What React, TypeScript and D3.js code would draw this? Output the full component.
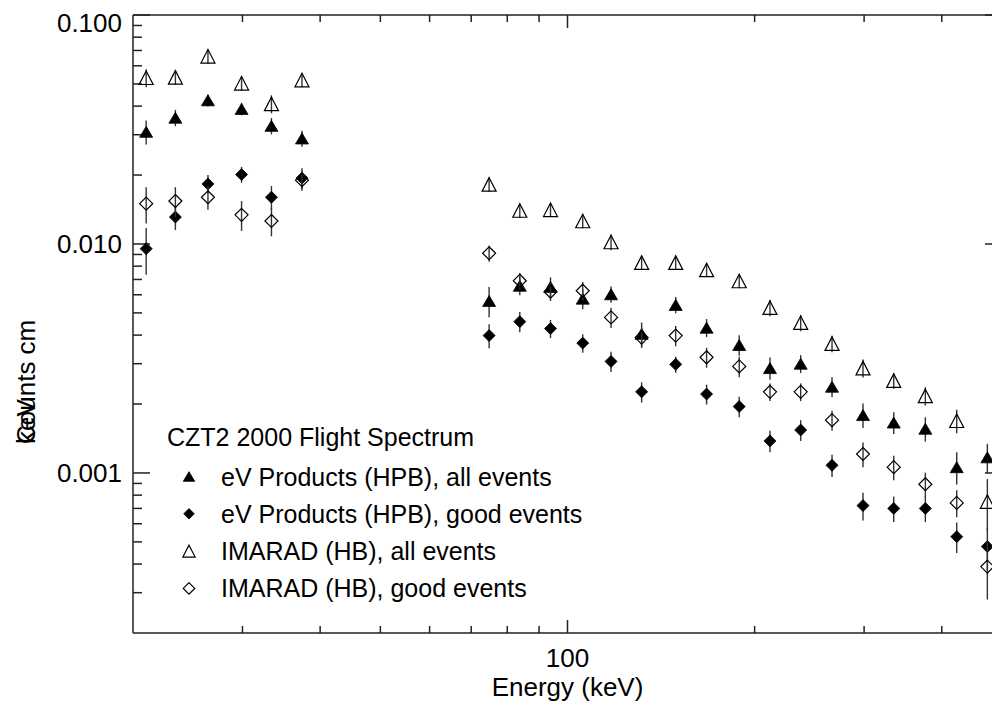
import React from 'react';
import * as d3 from 'd3';

const energies = [21.0, 23.4, 26.4, 29.9, 33.4, 37.4,
  74.8, 83.8, 93.9, 105.8, 117.5, 131.6, 149.3, 167.4, 188.9, 211.7, 237.2, 266.4, 298.8, 334.8, 376.4, 422.8, 473.6];

const evAll = [0.0309, 0.0356, 0.0424, 0.0389, 0.0328, 0.0289,
  0.00564, 0.00657, 0.00649, 0.00577, 0.00603, 0.00405, 0.00542, 0.00431, 0.00362, 0.00287, 0.00300, 0.00238, 0.00179, 0.00166, 0.00156, 0.00106, 0.00117];
const evAllErr = [0.0037, 0.0029, 0.0026, 0.0024, 0.0027, 0.0023,
  0.00085, 0.0006, 0.00066, 0.00058, 0.00049, 0.00049, 0.00044, 0.00039, 0.00037, 0.00032, 0.00027, 0.00024, 0.00022, 0.00018, 0.00019, 0.00017, 0.00017];

const evGood = [0.00954, 0.0131, 0.0183, 0.0201, 0.0160, 0.0194,
  0.00398, 0.00458, 0.00427, 0.00369, 0.00307, 0.00226, 0.00298, 0.00221, 0.00195, 0.00138, 0.00154, 0.00108, 0.00072, 0.00070, 0.00070, 0.000527, 0.000477];
const evGoodErr = [0.0022, 0.0016, 0.0017, 0.0016, 0.0019, 0.002,
  0.00048, 0.00046, 0.00039, 0.00034, 0.00031, 0.00023, 0.00024, 0.00022, 0.0002, 0.00015, 0.00016, 0.00012, 0.0001, 0.00009, 0.00009, 0.00008, 0.0001];

const imAll = [0.0532, 0.0534, 0.0660, 0.0503, 0.0409, 0.0520,
  0.0182, 0.0140, 0.0141, 0.0126, 0.0102, 0.00829, 0.00829, 0.0077, 0.00689, 0.00527, 0.00453, 0.00367, 0.00287, 0.00253, 0.00217, 0.00169, 0.00075];
const imAllErr = [0.0048, 0.0038, 0.0047, 0.0036, 0.0037, 0.0037,
  0.0013, 0.001, 0.001, 0.0009, 0.0008, 0.0006, 0.0006, 0.00054, 0.00049, 0.00043, 0.00037, 0.0003, 0.00026, 0.0002, 0.0002, 0.0002, 0.00019];

const imGood = [0.0150, 0.0154, 0.0160, 0.0134, 0.0126, 0.0190,
  0.00911, 0.00691, 0.00619, 0.00625, 0.00478, 0.0039, 0.00398, 0.0032, 0.00292, 0.00226, 0.00226, 0.0017, 0.00121, 0.00106, 0.000893, 0.00074, 0.00039];
const imGoodErr = [0.0027, 0.0023, 0.0019, 0.002, 0.0018, 0.0019,
  0.00074, 0.00056, 0.00056, 0.00057, 0.00048, 0.00039, 0.0004, 0.00032, 0.0003, 0.0002, 0.0002, 0.00017, 0.00015, 0.00013, 0.00011, 0.0001, 0.00011];

const xMajorTicks = [100];
const xMinorTicks = [30, 40, 50, 60, 70, 80, 90, 200, 300, 400];
const yMajorTicks = [0.001, 0.01, 0.1];
const yMajorLabels = ['0.001', '0.010', '0.100'];
const yMinorTicks = [0.0003, 0.0004, 0.0005, 0.0006, 0.0007, 0.0008, 0.0009,
  0.002, 0.003, 0.004, 0.005, 0.006, 0.007, 0.008, 0.009,
  0.02, 0.03, 0.04, 0.05, 0.06, 0.07, 0.08, 0.09];

const legendTitle = 'CZT2 2000 Flight Spectrum';
const seriesNames = ['eV Products (HPB), all events', 'eV Products (HPB), good events', 'IMARAD (HB), all events', 'IMARAD (HB), good events'];

const W = 992, H = 702;
const L = 133, R = 1002, T = 15, B = 633;
const FONT = "'Liberation Sans', Arial, Helvetica, sans-serif";

function marker(kind: string, cx: number, cy: number, s: number, key?: any) {
  if (kind === 'triFilled') {
    const w = 13 * s, h = 11 * s;
    return <path key={key} d={`M${cx},${cy - h / 2}L${cx + w / 2},${cy + h / 2}L${cx - w / 2},${cy + h / 2}Z`} fill="#000" stroke="#000" strokeWidth={0.8} />;
  }
  if (kind === 'triOpen') {
    const w = 14 * s, h = 13.5 * s;
    return <path key={key} d={`M${cx},${cy - h / 2}L${cx + w / 2},${cy + h / 2}L${cx - w / 2},${cy + h / 2}Z`} fill="none" stroke="#000" strokeWidth={1.2} />;
  }
  if (kind === 'diaFilled') {
    const r = 6 * s;
    return <path key={key} d={`M${cx},${cy - r}L${cx + r},${cy}L${cx},${cy + r}L${cx - r},${cy}Z`} fill="#000" stroke="#000" strokeWidth={0.8} />;
  }
  const r = 6.5 * s;
  return <path key={key} d={`M${cx},${cy - r}L${cx + r},${cy}L${cx},${cy + r}L${cx - r},${cy}Z`} fill="none" stroke="#000" strokeWidth={1.2} />;
}

export default function App() {
  const x = d3.scaleLog().domain([20, 500]).range([L, R]);
  const y = d3.scaleLog().domain([0.0002, 0.1]).range([B, T]);

  const series = [
    { vals: evAll, errs: evAllErr, kind: 'triFilled' },
    { vals: evGood, errs: evGoodErr, kind: 'diaFilled' },
    { vals: imAll, errs: imAllErr, kind: 'triOpen' },
    { vals: imGood, errs: imGoodErr, kind: 'diaOpen' },
  ];
  const legendKinds = ['triFilled', 'diaFilled', 'triOpen', 'diaOpen'];
  const axisColor = '#222';

  return (
    <svg width={W} height={H} style={{ position: 'absolute', left: 0, top: 0, background: '#fff' }} fontFamily={FONT}>
      <rect x={0} y={0} width={W} height={H} fill="#fff" />
      <defs>
        <clipPath id="plotclip"><rect x={L} y={T} width={R - L} height={B - T} /></clipPath>
      </defs>
      {/* axes frame */}
      <g stroke={axisColor} strokeWidth={1.5} fill="none">
        <line x1={L} y1={T} x2={R} y2={T} />
        <line x1={L} y1={B} x2={R} y2={B} />
        <line x1={L} y1={T} x2={L} y2={B} />
        <line x1={R} y1={T} x2={R} y2={B} />
        {xMajorTicks.map((t, i) => (
          <g key={'xM' + i}>
            <line x1={x(t)} y1={B} x2={x(t)} y2={B - 13} />
            <line x1={x(t)} y1={T} x2={x(t)} y2={T + 13} />
          </g>
        ))}
        {xMinorTicks.map((t, i) => (
          <g key={'xm' + i}>
            <line x1={x(t)} y1={B} x2={x(t)} y2={B - 7} />
            <line x1={x(t)} y1={T} x2={x(t)} y2={T + 7} />
          </g>
        ))}
        {yMajorTicks.map((t, i) => (
          <g key={'yM' + i}>
            <line x1={L} y1={y(t)} x2={L + 17} y2={y(t)} />
            <line x1={R} y1={y(t)} x2={R - 17} y2={y(t)} />
          </g>
        ))}
        {yMinorTicks.map((t, i) => (
          <g key={'ym' + i}>
            <line x1={L} y1={y(t)} x2={L + 9} y2={y(t)} />
            <line x1={R} y1={y(t)} x2={R - 9} y2={y(t)} />
          </g>
        ))}
      </g>
      {/* tick labels */}
      {xMajorTicks.map((t, i) => (
        <text key={'xl' + i} x={x(t)} y={667} fontSize={26} textAnchor="middle" fill="#000">{String(t)}</text>
      ))}
      {yMajorTicks.map((t, i) => (
        <text key={'yl' + i} x={122} y={y(t) + 9 + (t === 0.1 ? 8 : 0)} fontSize={26} textAnchor="end" fill="#000">{yMajorLabels[i]}</text>
      ))}
      <text x={x(100)} y={696} fontSize={26} textAnchor="middle" fill="#000">Energy (keV)</text>
      {/* y axis label, overlapping as in the original */}
      <g transform="translate(35,444) rotate(-90)">
        <text x={0} y={0} fontSize={26} fill="#000">Counts cm</text>
        <text x={0} y={0} fontSize={26} fill="#000">keV</text>
      </g>
      {/* data */}
      <g clipPath="url(#plotclip)">
        {series.map((s, si) => (
          <g key={'s' + si}>
            {s.vals.map((v, i) => (
              <line key={'e' + i} x1={x(energies[i])} x2={x(energies[i])}
                y1={y(v + s.errs[i])} y2={y(Math.max(v - s.errs[i], 1e-6))}
                stroke="#333" strokeWidth={1.4} />
            ))}
            {s.vals.map((v, i) => marker(s.kind, x(energies[i]), y(v), 1, 'm' + i))}
          </g>
        ))}
      </g>
      {/* legend */}
      <text x={167} y={446} fontSize={25} fill="#000">{legendTitle}</text>
      {seriesNames.map((name, i) => (
        <g key={'lg' + i}>
          {marker(legendKinds[i], 189, 476.5 + i * 37.3, 0.88)}
          <text x={221} y={476.5 + i * 37.3 + 9} fontSize={25} fill="#000">{name}</text>
        </g>
      ))}
    </svg>
  );
}
